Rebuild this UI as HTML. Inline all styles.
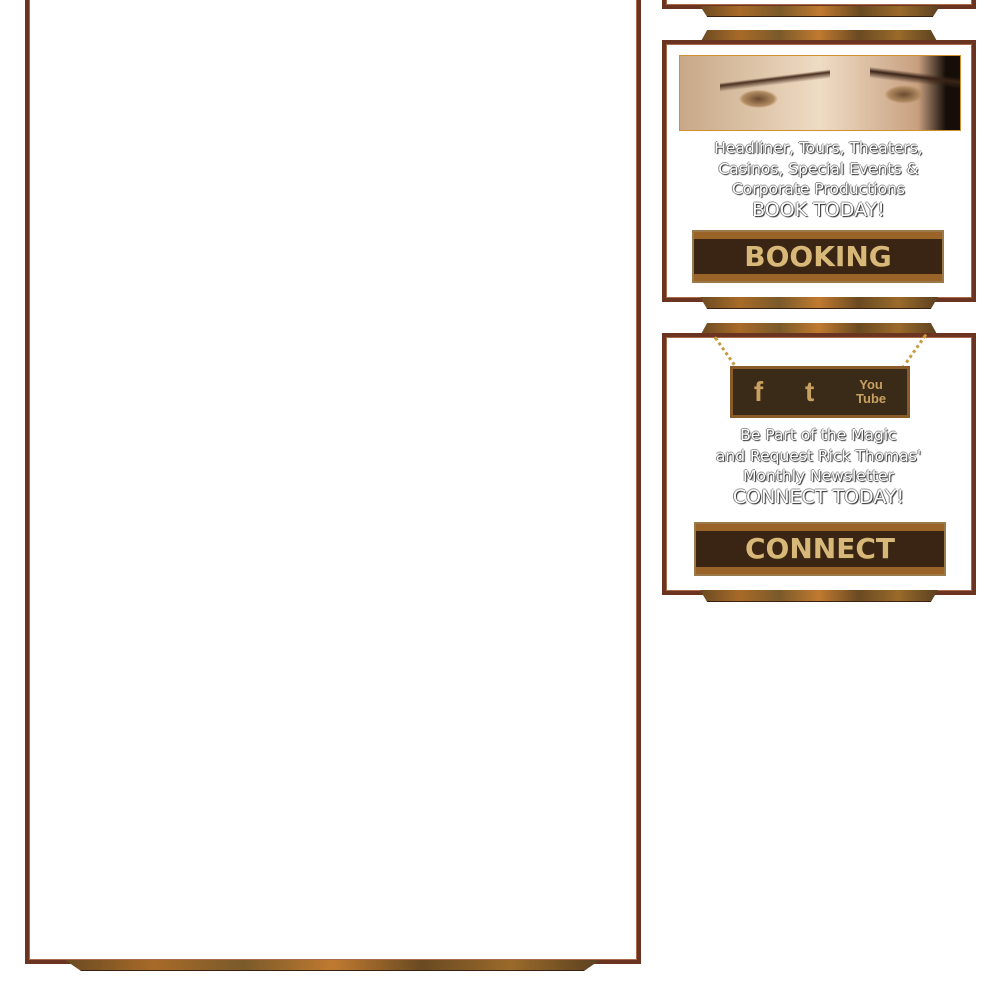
<!DOCTYPE html>
<html><head><meta charset="utf-8"><style>
body{margin:0;width:1000px;height:1006px;background:#fff;position:relative;overflow:hidden;font-family:"Liberation Sans",sans-serif}
.a{position:absolute}
.fr{position:absolute;border:4px solid #6b3420;box-sizing:border-box;box-shadow:inset 0 0 0 1px #a86a4a}
.bar{position:absolute;background:linear-gradient(90deg,#6a4a22,#a86a28,#7a5a2a,#c07a30,#6a4a22,#9a6a2a,#5a4020);clip-path:polygon(0 0,100% 0,97% 100%,3% 100%);border-bottom:1px solid #3a2010}
.tbar{clip-path:polygon(3% 0,97% 0,100% 100%,0 100%)}
.t{position:absolute;left:662px;width:313px;text-align:center;color:#fff;font-family:"DejaVu Sans",sans-serif;font-size:15.5px;line-height:20.5px;text-shadow:1px 1px 1px #222,-1px 0 0 #888,0 -1px 0 #999}
.btn{position:absolute;background:linear-gradient(#9a6428 0 14%,#3a2414 14% 86%,#9a6428 86%);border:2px solid #9a7a4a;box-sizing:border-box;color:#d8b878;font:bold 28px "DejaVu Sans",sans-serif;text-align:center;text-shadow:1px 1px 0 #3a2a10}
.ch{position:absolute;width:4px;height:42px;border-left:3px dotted #c89a40}
</style></head><body>
<div class="fr" style="left:25px;top:-10px;width:616px;height:974px"></div>
<div class="bar" style="left:65px;top:960px;width:535px;height:10px"></div>

<div class="fr" style="left:662px;top:-10px;width:314px;height:19px"></div>
<div class="bar" style="left:700px;top:6px;width:240px;height:10px"></div>

<div class="bar tbar" style="left:700px;top:30px;width:238px;height:12px"></div>
<div class="fr" style="left:662px;top:40px;width:314px;height:262px"></div>
<div class="bar" style="left:700px;top:297px;width:238px;height:11px"></div>
<div class="a" style="left:679px;top:55px;width:282px;height:76px;box-sizing:border-box;border:1px solid #d09030;background:linear-gradient(173deg,transparent 30%,#4a3020 33%,transparent 40%) 40px 0/110px 76px no-repeat,linear-gradient(187deg,transparent 25%,#3a2418 30%,transparent 38%) 190px 0/90px 76px no-repeat,radial-gradient(ellipse 28px 13px at 28% 58%,#6a4a30,#b08a60 55%,transparent 70%),radial-gradient(ellipse 28px 13px at 80% 52%,#6a4a30,#b08a60 55%,transparent 70%),linear-gradient(90deg,#c8a888,#efdcc4 50%,#c8a080 85%,#150e08 95%)"></div>
<div class="t" style="top:138px">Headliner, Tours, Theaters,<br>Casinos, Special Events &amp;<br>Corporate Productions<br><span style="font-size:19px">BOOK TODAY!</span></div>
<div class="btn" style="left:692px;top:230px;width:252px;height:53px;line-height:49px">BOOKING</div>

<div class="bar tbar" style="left:700px;top:323px;width:238px;height:12px"></div>
<div class="fr" style="left:662px;top:333px;width:314px;height:262px"></div>
<div class="bar" style="left:700px;top:590px;width:238px;height:11px"></div>
<div class="ch" style="left:725px;top:332px;transform:rotate(-35deg)"></div>
<div class="ch" style="left:912px;top:332px;transform:rotate(35deg)"></div>
<div class="a" style="left:730px;top:366px;width:180px;height:52px;background:#3a2a18;border:3px solid #8a5a28;box-sizing:border-box;color:#c8a060;font:bold 28px 'Liberation Sans',sans-serif;display:flex;justify-content:space-around;align-items:center"><span>f</span><span>t</span><span style="font-size:13px;line-height:14px;text-align:center">You<br>Tube</span></div>
<div class="t" style="top:425px">Be Part of the Magic<br>and Request Rick Thomas'<br>Monthly Newsletter<br><span style="font-size:19px">CONNECT TODAY!</span></div>
<div class="btn" style="left:694px;top:522px;width:252px;height:54px;line-height:50px">CONNECT</div>
</body></html>
